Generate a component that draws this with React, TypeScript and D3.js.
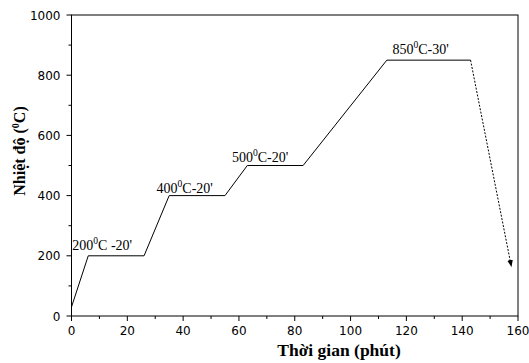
import * as d3 from "d3";

const PROFILE_T = [0, 6, 26, 35, 55, 63, 83, 113, 143];
const PROFILE_C = [30, 200, 200, 400, 400, 500, 500, 850, 850];
const COOL_T = [143, 157.6];
const COOL_C = [850, 165];

const STAGE_TEMP = ["200", "400", "500", "850"];
const STAGE_TAIL = ["C -20'", "C-20'", "C-20'", "C-30'"];
const STAGE_AT_T = [0.3, 30.5, 57.5, 115];
const STAGE_AT_C = [220, 410, 512, 870];

const X_TICKS = [0, 20, 40, 60, 80, 100, 120, 140, 160];
const Y_TICKS = [0, 200, 400, 600, 800, 1000];

const W = 529;
const H = 363;
const M = { left: 71.5, right: 11, top: 15, bottom: 47 };

export default function App() {
  const x = d3.scaleLinear().domain([0, 160]).range([M.left, W - M.right]);
  const y = d3.scaleLinear().domain([0, 1000]).range([H - M.bottom, M.top]);
  const line = d3
    .line<[number, number]>()
    .x((d) => x(d[0]))
    .y((d) => y(d[1]));
  const profile = PROFILE_T.map((t, i) => [t, PROFILE_C[i]] as [number, number]);
  const cool = COOL_T.map((t, i) => [t, COOL_C[i]] as [number, number]);
  const xMinor = d3.range(10, 160, 20);
  const yMinor = d3.range(100, 1000, 200);
  const y0 = y(0);
  const tickFont = "'DejaVu Sans', sans-serif";
  const serif = "'Liberation Serif', 'Times New Roman', serif";

  return (
    <svg width={W} height={H} style={{ position: "absolute", left: 0, top: 0 }}>
      <defs>
        <marker id="arr" viewBox="0 0 10 10" refX="9" refY="5" markerWidth="7" markerHeight="7" orient="auto">
          <path d="M0,1 L10,5 L0,9 Z" fill="#000" />
        </marker>
      </defs>
      <rect x={x(0)} y={y(1000)} width={x(160) - x(0)} height={y(0) - y(1000)} fill="none" stroke="#000" strokeWidth={1} />
      {X_TICKS.map((t) => (
        <g key={"x" + t}>
          <line x1={x(t)} x2={x(t)} y1={y0} y2={y0 + 5} stroke="#000" />
          <text x={x(t)} y={y0 + 19} textAnchor="middle" fontSize={12} fontFamily={tickFont}>
            {t}
          </text>
        </g>
      ))}
      {xMinor.map((t) => (
        <line key={"xm" + t} x1={x(t)} x2={x(t)} y1={y0} y2={y0 + 3} stroke="#000" />
      ))}
      {Y_TICKS.map((v) => (
        <g key={"y" + v}>
          <line x1={x(0) - 5} x2={x(0)} y1={y(v)} y2={y(v)} stroke="#000" />
          <text x={x(0) - 11} y={y(v) + 4.5} textAnchor="end" fontSize={12} fontFamily={tickFont}>
            {v}
          </text>
        </g>
      ))}
      {yMinor.map((v) => (
        <line key={"ym" + v} x1={x(0) - 3} x2={x(0)} y1={y(v)} y2={y(v)} stroke="#000" />
      ))}
      <path d={line(profile) ?? ""} fill="none" stroke="#000" strokeWidth={1} />
      <path d={line(cool) ?? ""} fill="none" stroke="#000" strokeWidth={1} strokeDasharray="2,1.5" markerEnd="url(#arr)" />
      {STAGE_TEMP.map((s, i) => (
        <text key={s} x={x(STAGE_AT_T[i])} y={y(STAGE_AT_C[i])} fontSize={14} fontFamily={serif}>
          {s}
          <tspan fontSize={9.5} dy={-6}>0</tspan>
          <tspan dy={6}>{STAGE_TAIL[i]}</tspan>
        </text>
      ))}
      <text x={339} y={356} textAnchor="middle" fontSize={17.5} fontWeight="bold" fontFamily={serif}>
        Thời gian (phút)
      </text>
      <text
        transform={`translate(25,151) rotate(-90)`}
        textAnchor="middle"
        fontSize={16}
        fontWeight="bold"
        fontFamily={serif}
      >
        Nhiệt độ (<tspan fontSize={10} dy={-6}>0</tspan><tspan dy={6}>C)</tspan>
      </text>
    </svg>
  );
}
